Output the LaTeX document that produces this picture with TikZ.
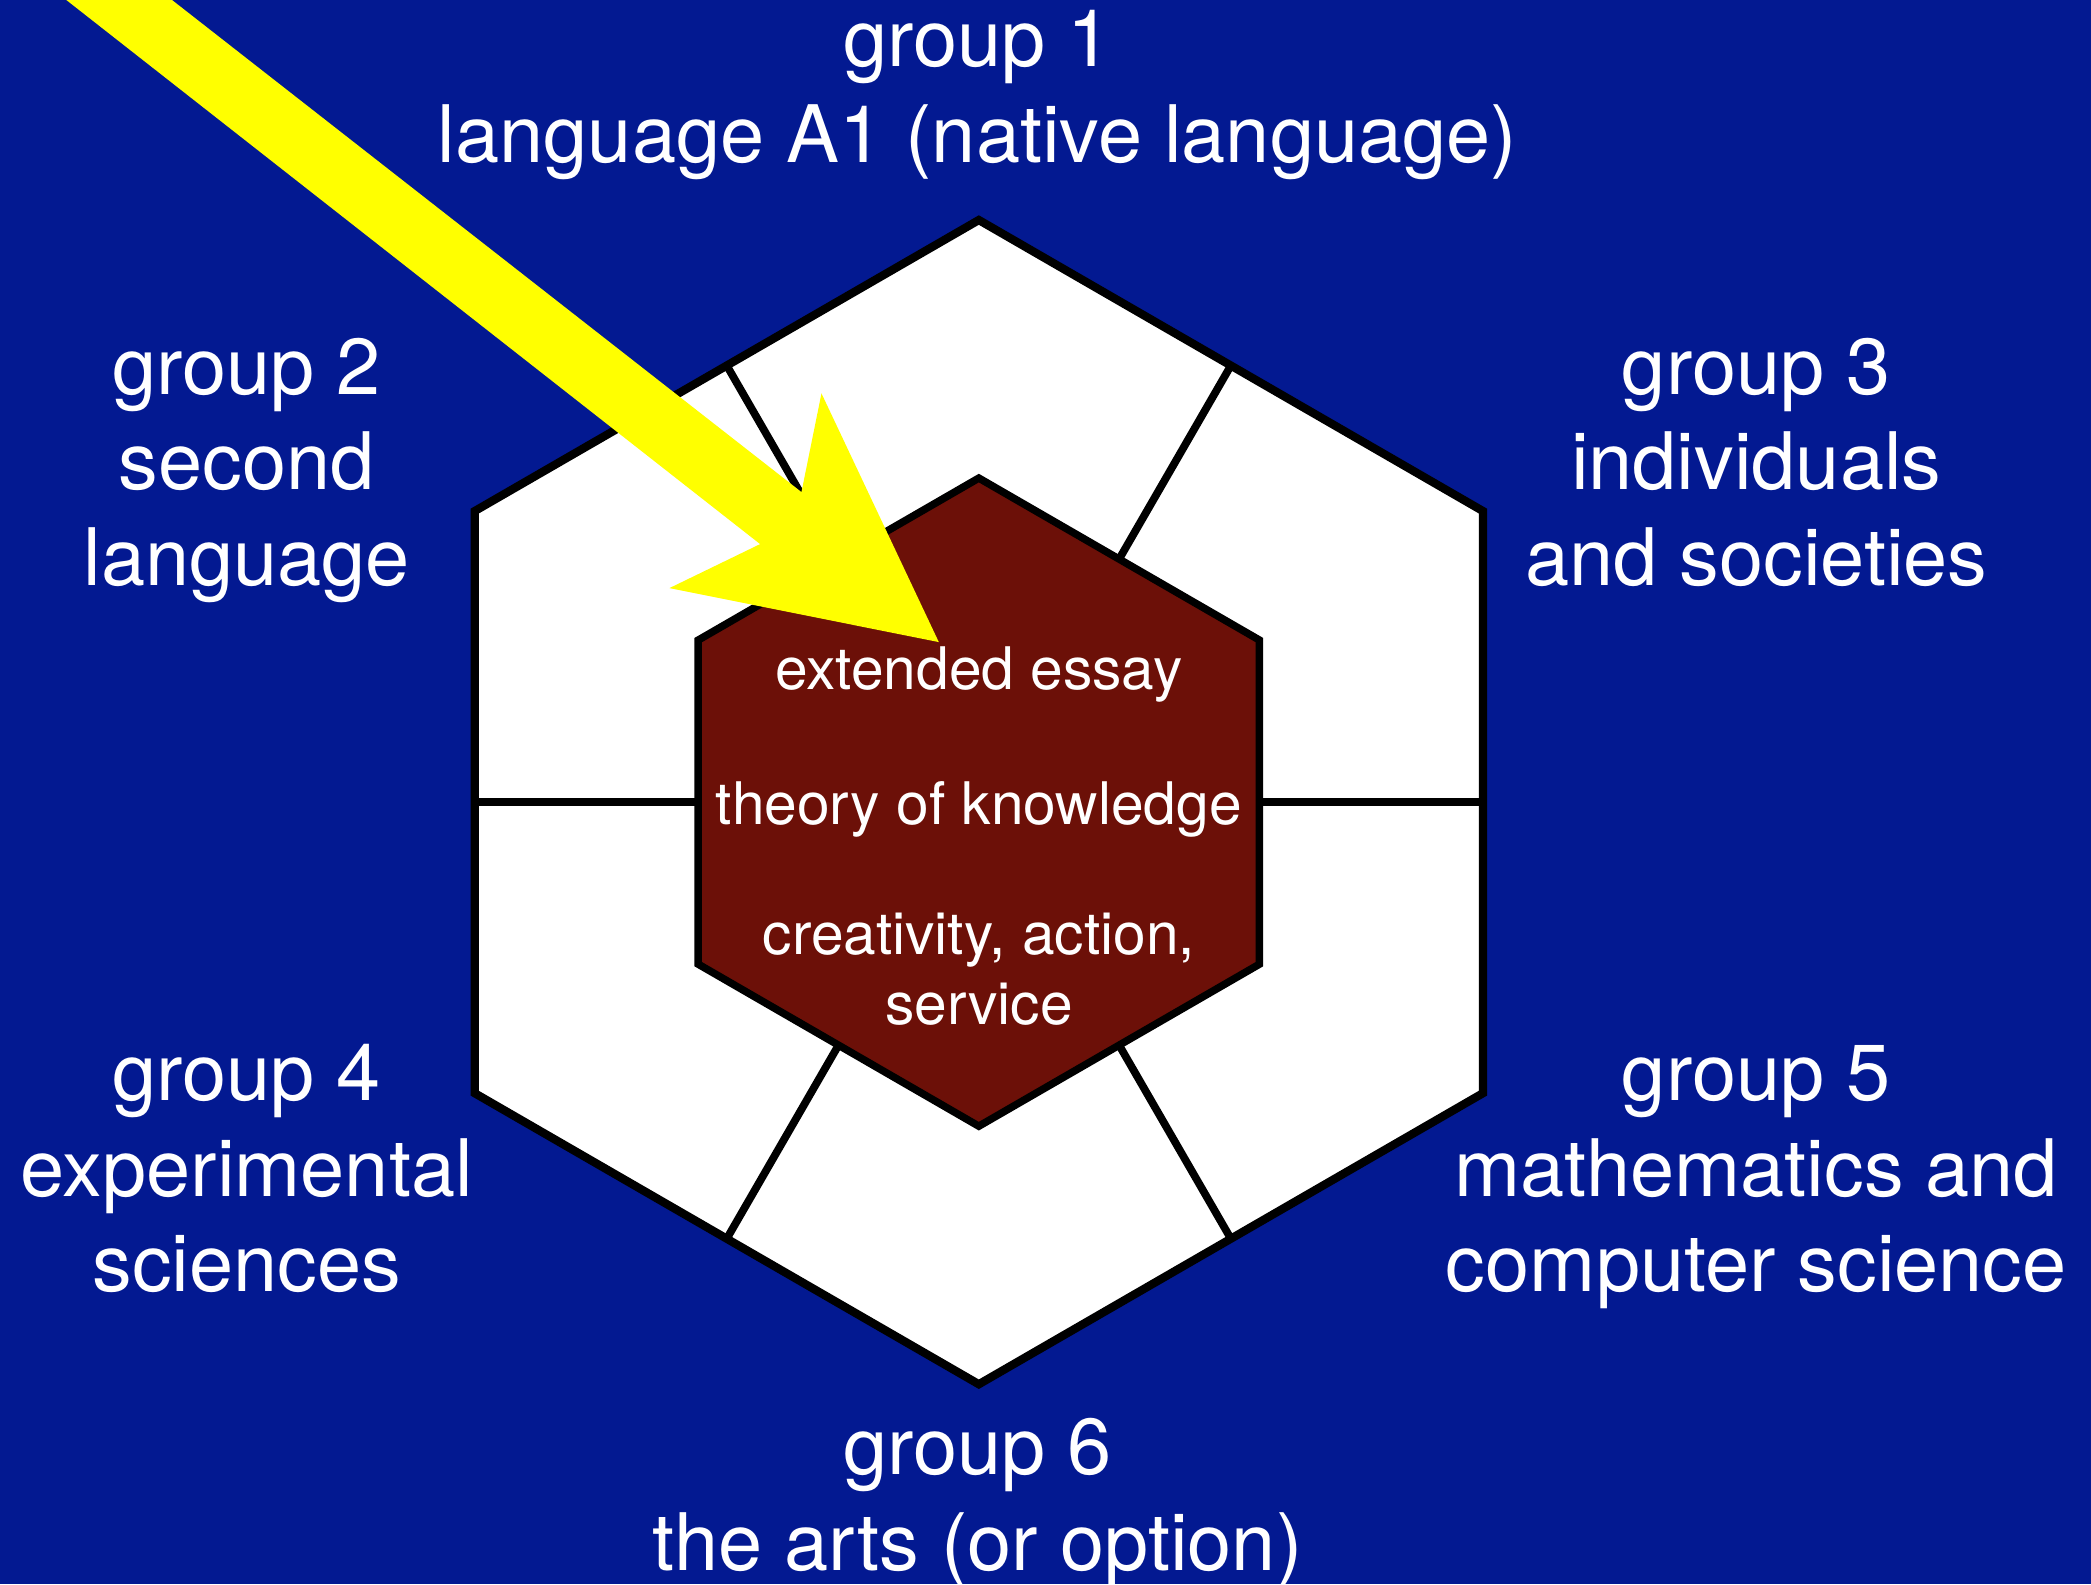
\documentclass[tikz,border=0pt]{standalone}
\usepackage{fontspec}
\setmainfont{TeX Gyre Heros}
\definecolor{bgblue}{RGB}{3,25,145}
\definecolor{corered}{RGB}{108,16,8}
\definecolor{arrowyellow}{RGB}{255,255,0}
\begin{document}
\begin{tikzpicture}[x=1pt,y=-1pt,
  lab/.style={text=white, align=center, anchor=base, inner sep=0pt,
    font=\fontsize{59.5}{71.7}\selectfont},
  core/.style={text=white, align=center, anchor=base, inner sep=0pt,
    font=\fontsize{44}{52}\selectfont},
  outerline/.style={draw=black, line width=6.2pt},
  innerline/.style={draw=black, line width=5.6pt},
  divider/.style={draw=black, line width=5.8pt}]
\useasboundingbox (0,0) rectangle (1568,1188);
\fill[bgblue] (0,0) rectangle (1568,1188);
\begin{scope}[shift={(734,601.5)}]
  \foreach \a/\n in {-90/1,-30/2,30/3,90/4,150/5,210/6} {
    \coordinate (o\n) at (\a:436.5);
    \coordinate (i\n) at (\a:243);
  }
  \foreach \a/\n in {-60/1,0/2,60/3,120/4,180/5,240/6} {
    \coordinate (om\n) at (\a:378);
    \coordinate (im\n) at (\a:210.4);
  }
\end{scope}
% outer hexagon
\filldraw[fill=white, outerline] (o1) -- (o2) -- (o3) -- (o4) -- (o5) -- (o6) -- cycle;
% dividers
\foreach \n in {1,...,6} \draw[divider] (im\n) -- (om\n);
% core hexagon
\filldraw[fill=corered, innerline] (i1) -- (i2) -- (i3) -- (i4) -- (i5) -- (i6) -- cycle;
% yellow arrow
\begin{scope}
  \clip (0,0) rectangle (1568,1188);
  \fill[arrowyellow] (-14,-50) -- (570,408) -- (502,441) -- (704,481.5)
    -- (616,295) -- (601,369) -- (65,-50) -- cycle;
\end{scope}
% labels (anchor = baseline of last line)
\node[lab] (g1) at (733,121.7) {group 1\\language A1 (native language)};
\node[lab] (g2) at (185,439) {group 2\\second\\language};
\node[lab] (g3) at (1317,439) {group 3\\individuals\\and societies};
\node[lab] (g4) at (185,968.6) {group 4\\experimental\\sciences};
\node[lab] (g5) at (1317,968.6) {group 5\\mathematics and\\computer science};
\node[lab] (g6) at (733,1177.4) {group 6\\the arts (or option)};
\node[core] (core) at (734,768) {extended essay\\[49pt]theory of knowledge\\[46pt]creativity, action,\\service};
\end{tikzpicture}
\end{document}
